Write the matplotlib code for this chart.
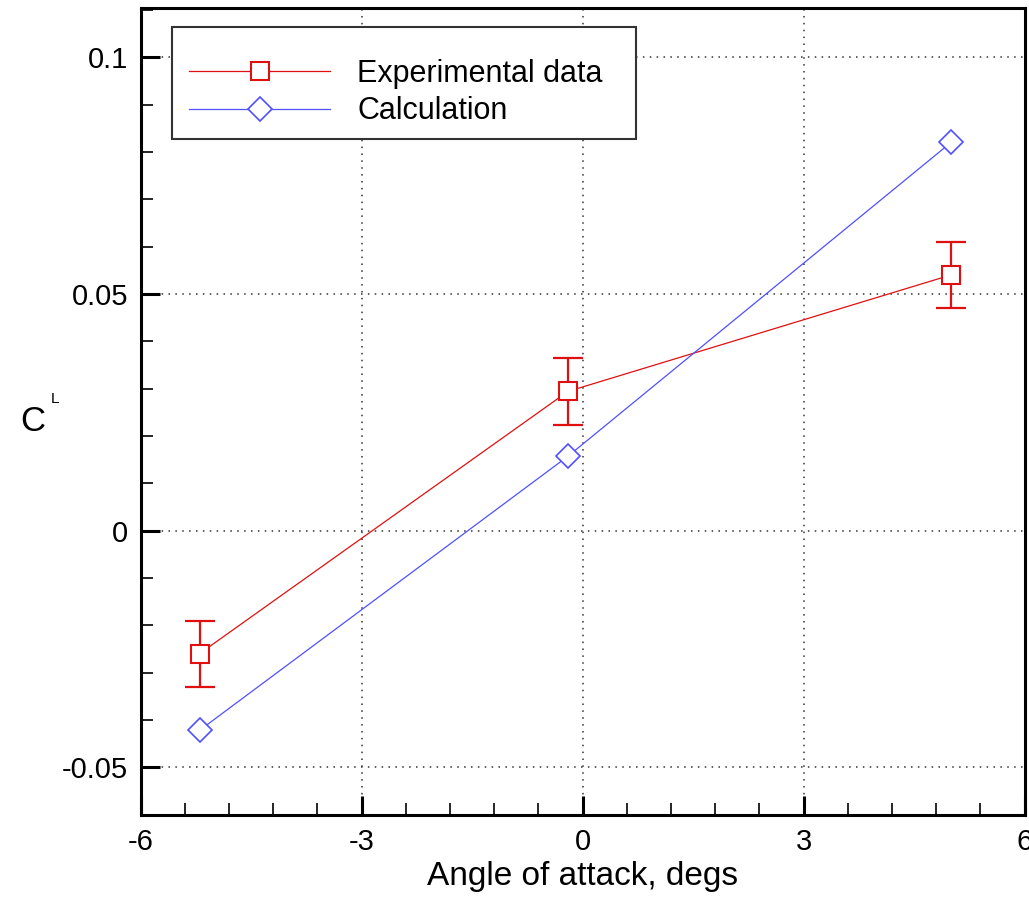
import numpy as np
import matplotlib
matplotlib.use("Agg")
import matplotlib.pyplot as plt
from matplotlib.patches import Rectangle
from matplotlib.ticker import MultipleLocator

# data
alpha = [-5.2, -0.2, 5.0]
cl_exp = [-0.026, 0.0294, 0.054]
cl_err = [0.007, 0.007, 0.007]
cl_calc = [-0.0422, 0.0157, 0.082]

labels = ["Experimental data", "Calculation"]
xticks = [-6, -3, 0, 3, 6]
yticks = [-0.05, 0, 0.05, 0.1]
ytick_labels = ["-0.05", "0", "0.05", "0.1"]

plt.rcParams["font.family"] = ["Liberation Sans", "DejaVu Sans"]

red = "#e01010"
blue = "#5050ff"

fig = plt.figure(figsize=(10.29, 9.0), dpi=100)
ax = fig.add_axes([0.1367, 0.0944, 0.8591, 0.8967])

ax.errorbar(alpha, cl_exp, yerr=cl_err, fmt="none", ecolor=red,
            elinewidth=1.6, capsize=11, capthick=1.6, zorder=3)
l_exp, = ax.plot(alpha, cl_exp, color=red, lw=0.9, marker="s", ms=13,
                 mfc="white", mec=red, mew=1.5, zorder=4)
l_calc, = ax.plot(alpha, cl_calc, color=blue, lw=0.9, marker="D", ms=12.5,
                  mfc="white", mec=blue, mew=1.2, zorder=4)

ax.set_xlim(-6, 6)
ax.set_ylim(-0.0601, 0.1104)
ax.set_xticks(xticks)
ax.set_xticklabels([str(t) for t in xticks])
ax.set_yticks(yticks)
ax.set_yticklabels(ytick_labels)
ax.xaxis.set_minor_locator(MultipleLocator(0.6))
ax.yaxis.set_minor_locator(MultipleLocator(0.01))

ax.tick_params(which="major", direction="in", length=14, width=2.2,
               labelsize=21, top=False, right=False, color="black")
ax.tick_params(which="minor", direction="in", length=8.5, width=1.2,
               top=False, right=False)
ax.tick_params(axis="y", which="major", pad=9)
ax.tick_params(axis="x", which="major", pad=9)

for s in ax.spines.values():
    s.set_linewidth(2.2)

ax.grid(True, which="major", color="#333333", linestyle=(0, (1, 3.5)), lw=1.1)
ax.set_axisbelow(True)

ax.set_xlabel("Angle of attack, degs", fontsize=24, labelpad=4)
fig.text(0.032, 0.532, "C", fontsize=25, ha="center", va="center")
fig.text(0.0535, 0.557, "L", fontsize=11, ha="center", va="center")

# legend box drawn separately so the entries sit lower inside it
box = Rectangle((0.0355, 0.8377), 0.5253, 0.1389, transform=ax.transAxes,
                facecolor="white", edgecolor="#333333", lw=1.5, zorder=5)
ax.add_patch(box)
leg = ax.legend([l_exp, l_calc], labels, loc="upper left",
                bbox_to_anchor=(0.055, 0.937),
                fontsize=22, frameon=False, handlelength=4.6,
                handletextpad=0.9, borderpad=0, labelspacing=0.25,
                borderaxespad=0)
leg.set_zorder(6)

fig.savefig("out.png", dpi=100)
